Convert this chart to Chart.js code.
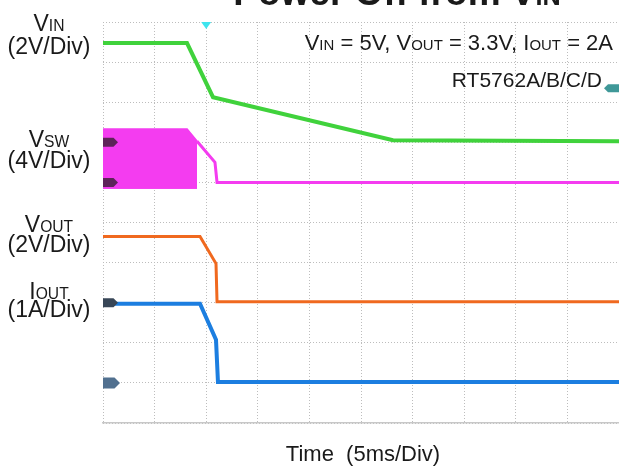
<!DOCTYPE html>
<html>
<head>
<meta charset="utf-8">
<script src="https://cdn.jsdelivr.net/npm/chart.js@4.4.0/dist/chart.umd.min.js"></script>
<style>
  html, body { margin: 0; padding: 0; background: #fff; }
  #wrap { position: relative; width: 619px; height: 469px; overflow: hidden; font-family: "Liberation Sans", Arial, sans-serif; color: #1a1a1a; }
  #scope { position: absolute; left: 0; top: 0; }
  .lbl { position: absolute; line-height: 1; white-space: pre; }
  .side { left: 0; width: 98px; text-align: center; font-size: 23px; }
  .sub { font-size: 0.68em; }
</style>
</head>
<body>
<div id="wrap">
  <canvas id="scope" width="619" height="469"></canvas>
  <div class="lbl" style="left:0;width:794px;text-align:center;top:-26px;font-size:37px;font-weight:bold;">Power Off from V<span class="sub">IN</span></div>

  <div class="lbl side" style="top:12px;">V<span class="sub">IN</span></div>
  <div class="lbl side" style="top:35px;">(2V/Div)</div>
  <div class="lbl side" style="top:128px;">V<span class="sub">SW</span></div>
  <div class="lbl side" style="top:149px;">(4V/Div)</div>
  <div class="lbl side" style="top:213px;">V<span class="sub">OUT</span></div>
  <div class="lbl side" style="top:233px;">(2V/Div)</div>
  <div class="lbl side" style="top:280px;">I<span class="sub">OUT</span></div>
  <div class="lbl side" style="top:298px;">(1A/Div)</div>

  <div class="lbl" style="right:6px;top:32px;font-size:22px;">V<span class="sub">IN</span> = 5V, V<span class="sub">OUT</span> = 3.3V, I<span class="sub">OUT</span> = 2A</div>
  <div class="lbl" style="right:17px;top:69px;font-size:21px;">RT5762A/B/C/D</div>
  <div class="lbl" style="left:0;width:726px;text-align:center;top:443px;font-size:22px;">Time  (5ms/Div)</div>
</div>
<script>
// time in ms, trigger at 0 (5ms/div)
const timeMin = -10;
const timeMax = 40;

// VIN (V) - 2V/div
const vinTime = [-10, -1.86, 0.66, 18.1, 40];
const vinVolts = [4.95, 4.95, 2.25, 0.1, 0.05];

// VSW switching band (V) - 4V/div
const swBandTime = [-10, -1.86, -0.89];
const swBandHigh = [5.3, 5.3, 4.1];
const swBandLow = [-0.6, -0.6, -0.6];
// VSW after switching stops
const swTime = [-0.89, 0.85, 1.05, 40];
const swVolts = [4.1, 2.0, 0, 0];

// VOUT (V) - 2V/div
const voutTime = [-10, -0.6, 0.95, 1.05, 40];
const voutVolts = [3.3, 3.3, 1.95, 0.05, 0.05];

// IOUT (A) - 1A/div
const ioutTime = [-10, -0.6, 0.95, 1.14, 40];
const ioutAmps = [1.975, 1.975, 1.075, 0.02, 0.02];

// channel settings: units per division and ground level in divisions
const vinScale = 2, vinGround = 7;
const swScale = 4, swGround = 6;
const voutScale = 2, voutGround = 3;
const ioutScale = 1, ioutGround = 1;
const trigLevelDiv = 8.35;

function toDiv(times, vals, scale, ground) {
  return times.map((t, i) => ({ x: t, y: ground + vals[i] / scale }));
}

const green = '#40d23c';
const magenta = '#f43cf0';
const orange = '#f0691f';
const blue = '#1c7ee0';

function tag(ctx, x, y, w, h, color, dir) {
  ctx.fillStyle = color;
  ctx.beginPath();
  if (dir > 0) {
    ctx.moveTo(x, y - h / 2);
    ctx.lineTo(x + w - h / 2, y - h / 2);
    ctx.lineTo(x + w, y);
    ctx.lineTo(x + w - h / 2, y + h / 2);
    ctx.lineTo(x, y + h / 2);
  } else {
    ctx.moveTo(x, y - h / 2);
    ctx.lineTo(x - w + h / 2, y - h / 2);
    ctx.lineTo(x - w, y);
    ctx.lineTo(x - w + h / 2, y + h / 2);
    ctx.lineTo(x, y + h / 2);
  }
  ctx.closePath();
  ctx.fill();
}

const markers = {
  id: 'markers',
  afterDatasetsDraw(chart) {
    const { ctx, chartArea, scales } = chart;
    const y = scales.y, x = scales.x;
    ctx.save();
    tag(ctx, chartArea.left, y.getPixelForValue(vinGround), 15, 9, '#5e2459', 1);
    tag(ctx, chartArea.left, y.getPixelForValue(swGround), 15, 9, '#5e2459', 1);
    tag(ctx, chartArea.left, y.getPixelForValue(voutGround), 15, 9, '#384657', 1);
    tag(ctx, chartArea.left, y.getPixelForValue(ioutGround), 17, 11, '#51708f', 1);
    tag(ctx, chartArea.right, y.getPixelForValue(trigLevelDiv), 15, 8, '#3f9898', -1);
    const tx = x.getPixelForValue(0);
    ctx.fillStyle = '#3ee4ee';
    ctx.beginPath();
    ctx.moveTo(tx - 5, chartArea.top);
    ctx.lineTo(tx + 5, chartArea.top);
    ctx.lineTo(tx, chartArea.top + 7);
    ctx.closePath();
    ctx.fill();
    ctx.restore();
  }
};

const line = (data, color, width) => ({
  data, borderColor: color, borderWidth: width, pointRadius: 0,
  showLine: true, fill: false, tension: 0
});

new Chart(document.getElementById('scope'), {
  type: 'scatter',
  data: {
    datasets: [
      line(toDiv(vinTime, vinVolts, vinScale, vinGround), green, 4),
      line(toDiv(voutTime, voutVolts, voutScale, voutGround), orange, 3),
      line(toDiv(ioutTime, ioutAmps, ioutScale, ioutGround), blue, 4),
      line(toDiv(swTime, swVolts, swScale, swGround), magenta, 3),
      Object.assign(line(toDiv(swBandTime, swBandHigh, swScale, swGround), magenta, 2),
        { fill: '+1', backgroundColor: magenta }),
      line(toDiv(swBandTime, swBandLow, swScale, swGround), magenta, 1)
    ]
  },
  options: {
    responsive: false,
    animation: false,
    layout: { padding: { left: 103, right: 0, top: 22, bottom: 46 } },
    plugins: { legend: { display: false }, tooltip: { enabled: false } },
    scales: {
      x: {
        type: 'linear', min: timeMin, max: timeMax,
        ticks: { display: false, stepSize: 5 },
        grid: { color: '#bdbdbd', lineWidth: 1, drawTicks: false },
        border: { display: true, color: '#c8c8c8', width: 1.5, dash: [1, 2] }
      },
      y: {
        min: 0, max: 10,
        ticks: { display: false, stepSize: 1 },
        grid: { color: '#bdbdbd', lineWidth: 1, drawTicks: false },
        border: { display: false, dash: [1, 2] }
      }
    }
  },
  plugins: [markers]
});
</script>
</body>
</html>
